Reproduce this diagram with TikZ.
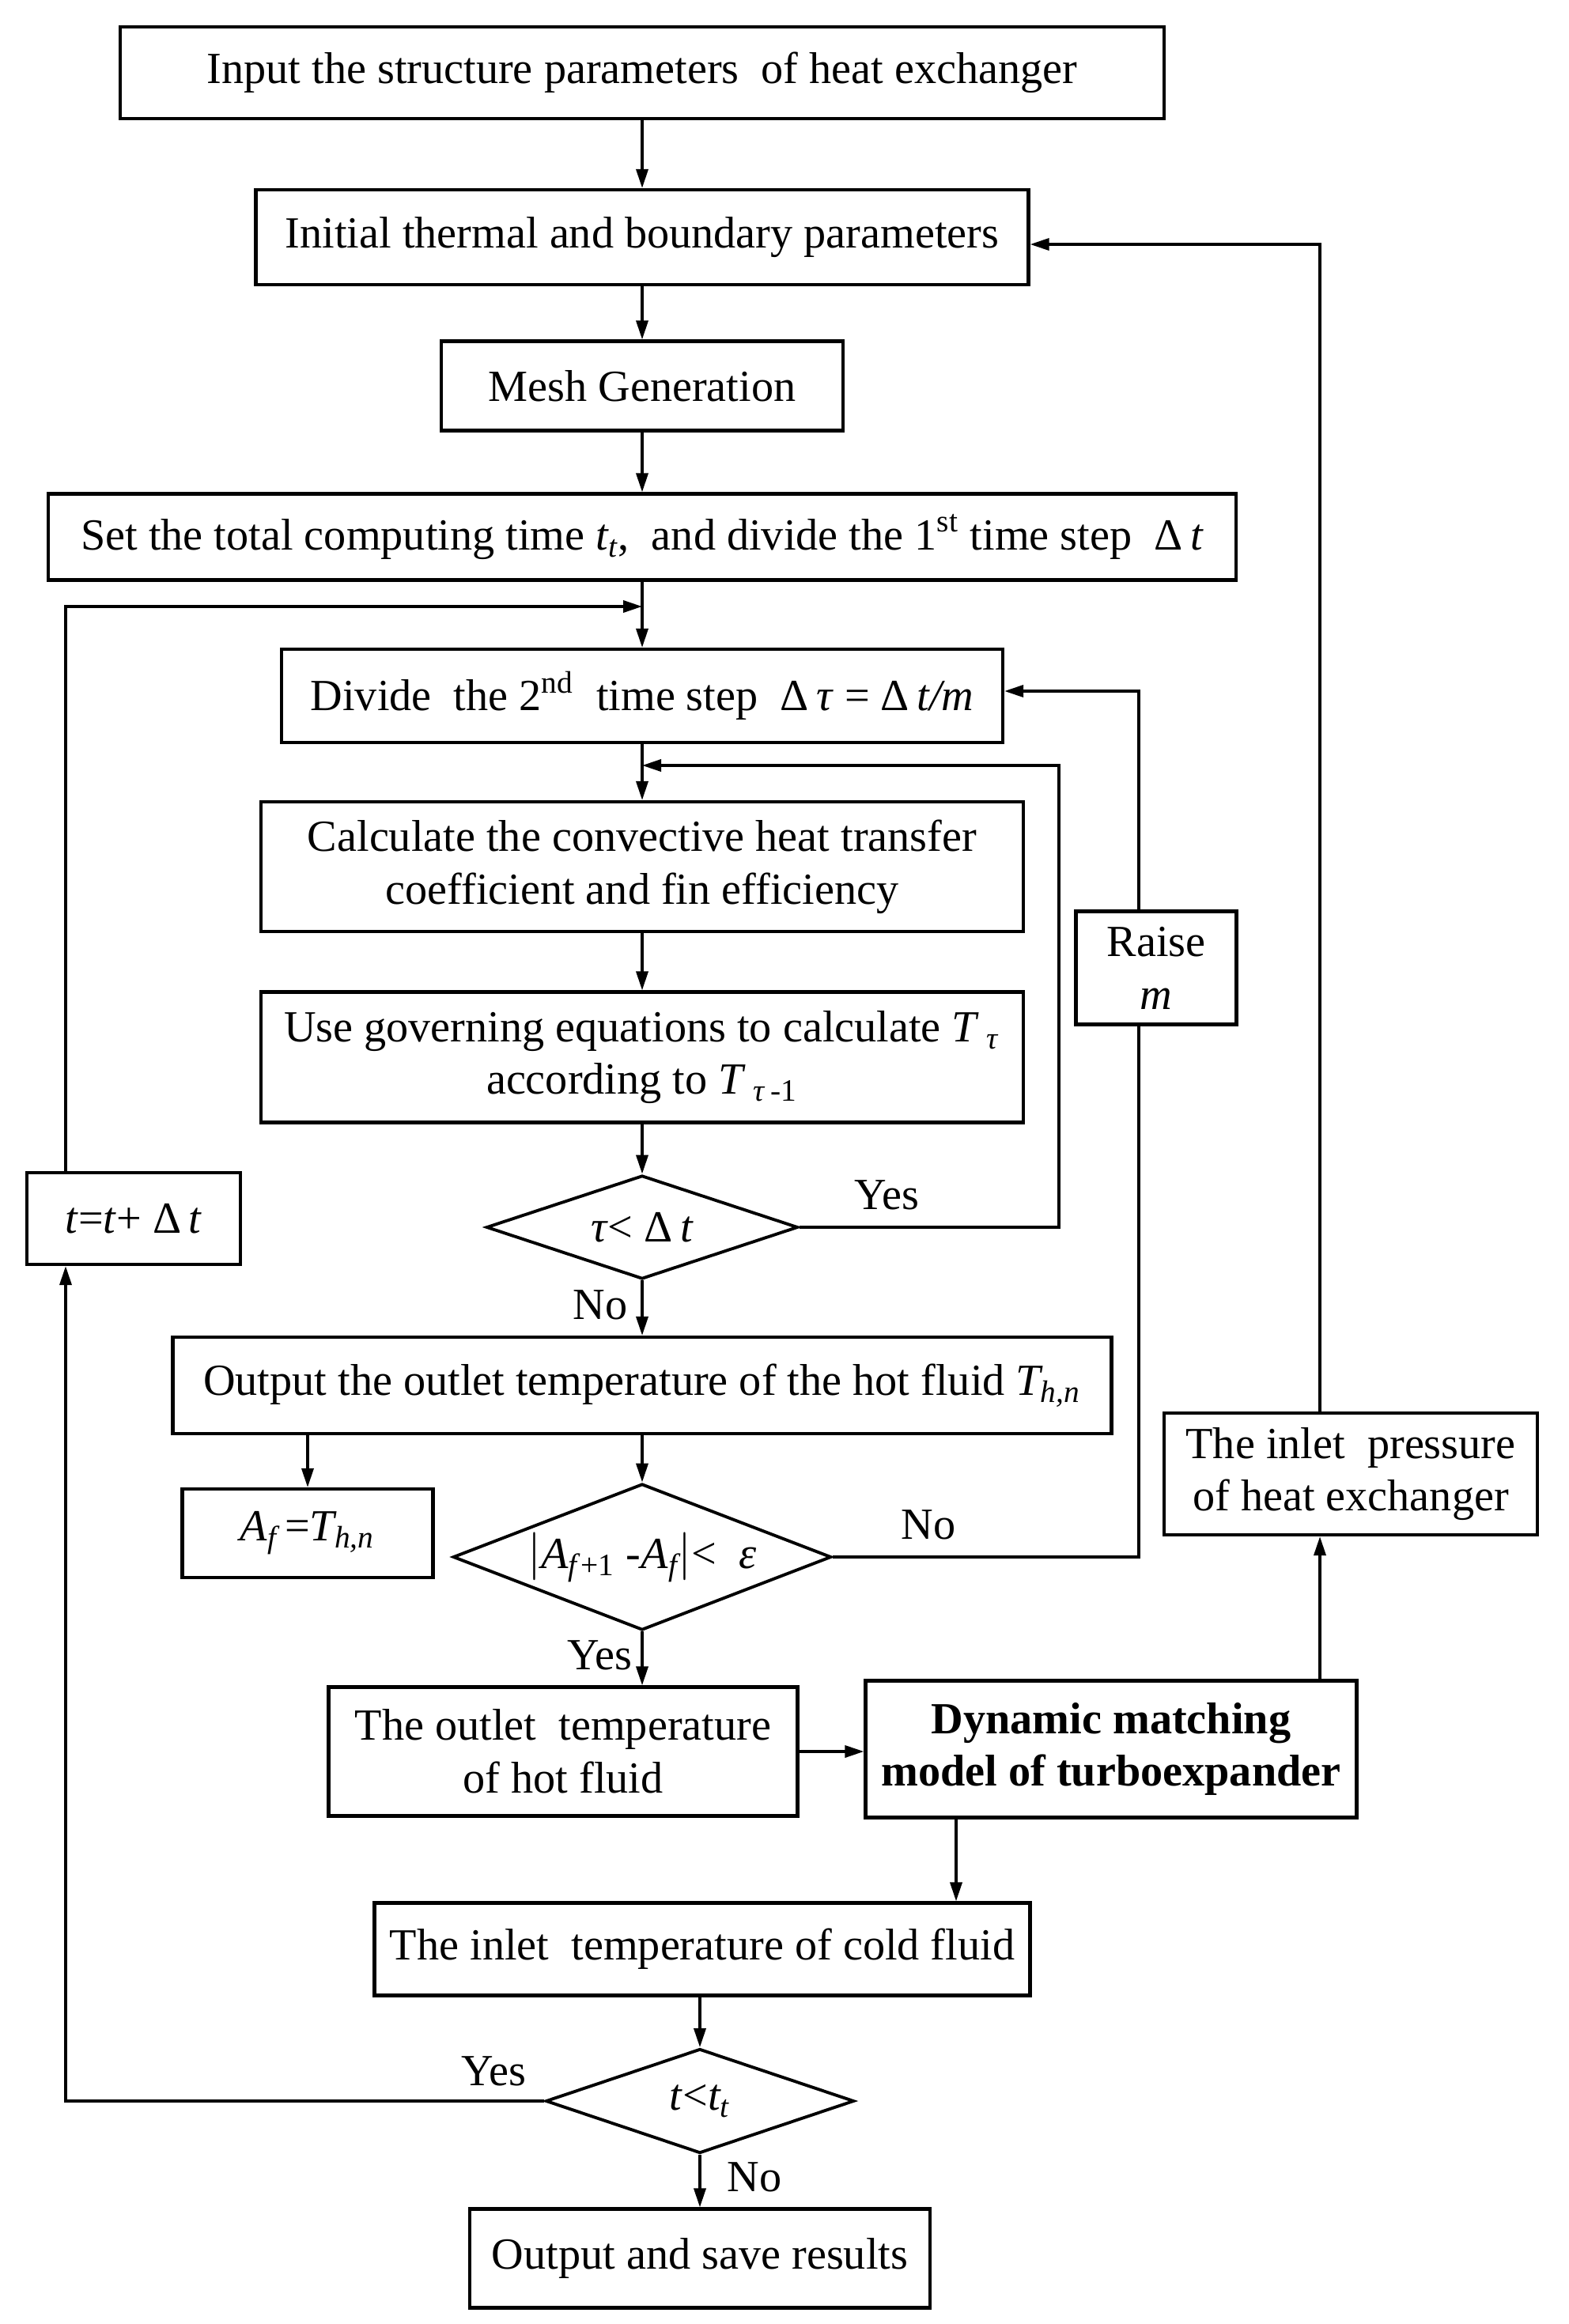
\documentclass[tikz,border=0pt]{standalone}
\usepackage{fontspec}
\setmainfont{Liberation Serif}
\usetikzlibrary{shapes.geometric,arrows.meta}

\tikzset{
  box/.style={draw, line width=1.2pt, align=center, inner sep=2pt},
  decision/.style={diamond, draw, line width=1.1pt, align=center, inner sep=0pt, aspect=3},
  arr/.style={line width=1pt, -{Triangle[length=2.4mm,width=1.5mm]}},
  line/.style={line width=1pt},
  lbl/.style={inner sep=0pt}
}

\begin{document}
\begin{tikzpicture}[font=\fontsize{16}{19}\selectfont]

        \useasboundingbox (0,0) rectangle (19.84,-29.39);

        % Main column
        \node[box, minimum width=13.2cm, minimum height=1.16cm] (input) at (8.12,-0.92) {Input the structure parameters\ \ of heat exchanger};
        \node[box, minimum width=9.77cm, minimum height=1.20cm] (init) at (8.12,-3.00) {Initial thermal and boundary parameters};
        \node[box, minimum width=5.08cm, minimum height=1.13cm] (mesh) at (8.12,-4.88) {Mesh Generation};
        \node[box, minimum width=15.02cm, minimum height=1.09cm] (set) at (8.12,-6.79) {Set the total computing time \textit{t\textsubscript{t}},\ \ and divide the 1\textsuperscript{st} time step\ \ Δ\,\textit{t}};
        \node[box, minimum width=9.12cm, minimum height=1.18cm] (div2) at (8.12,-8.80) {Divide\ \ the 2\textsuperscript{nd}\ \ time step\ \ Δ\,\textit{τ} = Δ\,\textit{t/m}};
        \node[box, minimum width=9.64cm, minimum height=1.64cm] (calc) at (8.12,-10.96) {Calculate the convective heat transfer\\coefficient and fin efficiency};
        \node[box, minimum width=9.64cm, minimum height=1.65cm] (use) at (8.12,-13.37) {Use governing equations to calculate \textit{T}\,\textsubscript{\textit{τ}}\\according to \textit{T}\,\textsubscript{\textit{τ}\,-1}};
        \node[decision, minimum width=3.94cm, minimum height=1.31cm] (dtau) at (8.12,-15.52) {\textit{τ}< Δ\,\textit{t}};
        \node[box, minimum width=11.87cm, minimum height=1.22cm] (outp) at (8.12,-17.52) {Output the outlet temperature of the hot fluid \textit{T\textsubscript{h,n}}};
        \node[box, minimum width=3.17cm, minimum height=1.12cm] (af) at (3.89,-19.39) {\textit{A\textsubscript{f}}\,=\textit{T\textsubscript{h,n}}};
        \node[decision, minimum width=4.63cm, minimum height=1.85cm] (dacc) at (8.12,-19.69) {$\Big|$\textit{A}\textsubscript{\textit{f}+1} -\textit{A\textsubscript{f}}$\Big|$< \ \textit{ε}};
        \node[box, minimum width=5.93cm, minimum height=1.63cm] (hot) at (7.12,-22.15) {The outlet\ \ temperature\\of hot fluid};
        \node[box, minimum width=6.21cm, minimum height=1.73cm] (dyn) at (14.05,-22.12) {\textbf{Dynamic matching}\\\textbf{model of turboexpander}};
        \node[box, minimum width=8.29cm, minimum height=1.17cm] (cold) at (8.88,-24.65) {The inlet\ \ temperature of cold fluid};
        \node[decision, minimum width=3.90cm, minimum height=1.32cm] (dt) at (8.85,-26.57) {\textit{t}<\textit{t\textsubscript{t}}};
        \node[box, minimum width=5.82cm, minimum height=1.25cm] (save) at (8.85,-28.56) {Output and save results};

        % Side boxes
        \node[box, minimum width=2.70cm, minimum height=1.16cm] (tnew) at (1.69,-15.41) {\textit{t}=\textit{t}+ Δ\,\textit{t}};
        \node[box, minimum width=2.03cm, minimum height=1.43cm] (raise) at (14.62,-12.24) {Raise\\\textit{m}};
        \node[box, minimum width=4.72cm, minimum height=1.54cm] (press) at (17.08,-18.64) {The inlet\ \ pressure\\of heat exchanger};

        % Corners of the loops
        \coordinate (lt) at (0.83,-7.67);
        \coordinate (ry) at (13.39,-9.68);
        \coordinate (rn) at (14.40,-8.74);
        \coordinate (pr) at (16.69,-3.09);
        \coordinate (dc) at (12.09,-22.12);

        % Straight arrows
        \draw[arr] (input) -- (init);
        \draw[arr] (init) -- (mesh);
        \draw[arr] (mesh) -- (set);
        \draw[arr] (set) -- (div2);
        \draw[arr] (div2) -- (calc);
        \draw[arr] (calc) -- (use);
        \draw[arr] (use) -- (dtau);
        \draw[arr] (dtau) -- (outp);
        \draw[arr] (outp) -- (dacc);
        \draw[arr] (outp.south -| af.north) -- (af.north);
        \draw[arr] (dacc.south) -- (dacc.south |- hot.north);
        \draw[arr] (hot.east) -- (dyn.west |- hot.east);
        \draw[arr] (dyn.south -| dc) -- (cold.north -| dc);
        \draw[arr] (cold.south -| dt.north) -- (dt.north);
        \draw[arr] (dt) -- (save);

        % Loops
        \draw[arr] (dtau.east) -- (dtau.east -| ry) -- (ry) -- (ry -| div2.south);
        \draw[line] (dacc.east) -- (dacc.east -| rn) -- (raise.south -| rn);
        \draw[arr] (raise.north -| rn) -- (rn) -- (div2.east |- rn);
        \draw[arr] (dt.west) -- (dt.west -| lt) -- (tnew.south -| lt);
        \draw[arr] (tnew.north -| lt) -- (lt) -- (lt -| set.south);
        \draw[arr] (dyn.north -| pr) -- (press.south -| pr);
        \draw[arr] (press.north -| pr) -- (pr) -- (init.east |- pr);

        % Yes / No
        \node[lbl] (yes1) at (11.21,-15.11) {Yes};
        \node[lbl] (no1) at (7.59,-16.50) {No};
        \node[lbl] (no2) at (11.74,-19.28) {No};
        \node[lbl] (yes2) at (7.58,-20.93) {Yes};
        \node[lbl] (yes3) at (6.24,-26.19) {Yes};
        \node[lbl] (no3) at (9.54,-27.53) {No};

\end{tikzpicture}
\end{document}
